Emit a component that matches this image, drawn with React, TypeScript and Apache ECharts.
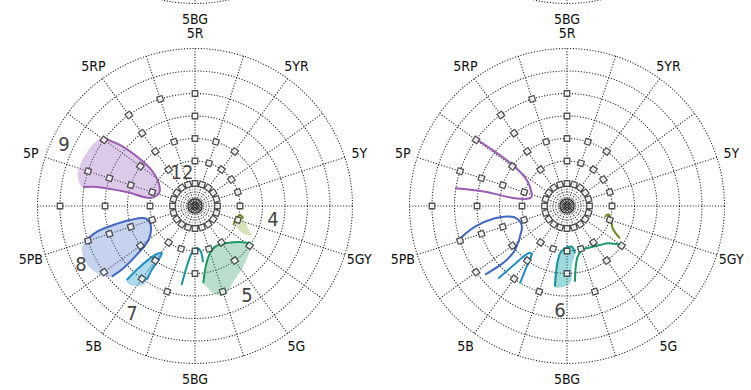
import React, { useEffect, useRef } from "react";
import * as echarts from "echarts";

// ---------- data ----------
const HUE_LABELS = ["5R", "5YR", "5Y", "5GY", "5G", "5BG", "5B", "5PB", "5P", "5RP"];
const HUE_LABEL_ANGLES = [0, 36, 72, 108, 144, 180, 216, 252, 288, 324];
const TOP_LABELS = ["5BG"];
const TOP_LABEL_ANGLES = [180];

const HUES20 = ["5R", "10R", "5YR", "10YR", "5Y", "10Y", "5GY", "10GY", "5G", "10G", "5BG", "10BG", "5B", "10B", "5PB", "10PB", "5P", "10P", "5RP", "10RP"];
const HUE20_ANGLES = [0, 18, 36, 54, 72, 90, 108, 126, 144, 162, 180, 198, 216, 234, 252, 270, 288, 306, 324, 342];
const MARKER_CHROMAS = [
  [2, 4, 6, 8, 10], // 5R
  [2, 4, 6], // 10R
  [2, 4, 6], // 5YR
  [2, 4], // 10YR
  [2, 4], // 5Y
  [2, 4], // 10Y
  [2, 4], // 5GY
  [2, 6], // 10GY
  [2, 4, 6], // 5G
  [2, 4, 8], // 10G
  [2, 4, 6], // 5BG
  [2, 4, 8], // 10BG
  [2, 4, 6, 8], // 5B
  [2, 6, 10], // 10B
  [2, 4, 6, 8, 10], // 5PB
  [2, 4, 8, 12], // 10PB
  [2, 4, 6, 8, 10], // 5P
  [2, 6, 10], // 10P
  [2, 4, 6, 8, 10], // 5RP
  [2, 6, 10], // 10RP
];

// regions: [chroma, hue angle]
const PURPLE_LINE_L = [[10.24, 306.2], [8.6, 309.1], [6.4, 310.5], [4.8, 309], [3.75, 301.4], [3.4, 289.9], [4.06, 280.1], [6.2, 281.6], [8.9, 281], [10.1, 279.6]];
const PURPLE_EDGE_L = [[10.7, 283.5], [10.85, 289.6], [10.7, 297.6], [10.5, 303.3]];
const BLUE_LINE_L = [[10.3, 252], [9.0, 255.3], [7.46, 256.9], [5.9, 257.8], [4.58, 256.2], [4.28, 246.8], [5.1, 234], [6.8, 230], [8.44, 229], [9.7, 229.7]];
const BLUE_EDGE_L = [[10.4, 234], [10.9, 241.1], [10.8, 248.7]];
const CYAN_LINE_L = [[8.95, 222.7], [7.28, 222.2], [5.6, 219.2], [5.14, 215.1], [5.8, 214.2], [6.87, 214.1], [7.85, 213.1]];
const CYAN_EDGE_L = [[8.4, 213.2], [9.1, 219.5]];
const TEAL_LINE_L = [[7.12, 189.6], [5.45, 187.8], [4.2, 184], [3.76, 177.7], [4.12, 172.6], [5.03, 171.9]];
const GREEN_LINE_L = [[6.9, 173.9], [5.33, 169.4], [4.41, 162.4], [4.02, 152.3], [4.35, 139.1], [5.12, 128.7], [6.09, 123.7]];
const GREEN_EDGE_L = [[6.15, 122.6], [6.44, 132.6], [6.9, 141.5], [7.54, 153.2], [8.35, 161.4], [7.93, 168.2], [7.25, 171.8]];
const OLIVE_LINE_L = [[3.8, 116.4], [3.87, 106.4], [4.08, 101.3], [4.43, 104.3]];
const OLIVE_FILL_L = [[3.87, 106.4], [4.08, 101.3], [4.43, 104.3], [5.25, 114], [5.66, 117.1], [5.02, 119.7], [4.14, 116.4]];

const PURPLE_LINE_R = [[10.15, 306.4], [8.0, 307], [5.8, 307], [4.26, 302.8], [3.34, 289.8], [3.36, 281.8], [4.67, 278.4], [7.4, 279.9], [10.08, 279]];
const BLUE_LINE_R = [[10.1, 252.6], [8.38, 257.3], [6.5, 260.3], [5.0, 259], [4.4, 251.5], [4.56, 242.1], [6.05, 229.8], [7.2, 228.2], [8.17, 228.7], [9.5, 230]];
const CYAN_LINE_R = [[8.87, 223.5], [7.3, 222.3], [5.95, 220.8], [5.3, 218.4], [5.37, 215.8], [6.48, 213.6], [8.04, 211.3]];
const TEAL_LINE_R = [[7.25, 188.5], [5.47, 189.6], [4.25, 188.4], [3.76, 182.7], [3.64, 173.4], [4.26, 170.4]];
const TEAL_EDGE_R = [[5.26, 175.2], [6.88, 177.8]];
const GREEN_LINE_R = [[6.77, 174], [4.88, 169.8], [4.12, 161.5], [4.17, 153.4], [4.54, 139.8], [4.95, 132.1], [5.97, 125.5]];
const OLIVE_LINE_R = [[3.5, 106.1], [3.75, 101.4], [4.1, 107.7], [4.57, 116.6], [5.52, 121.4]];

const NUM_LABELS_L = ["9", "12", "4", "8", "7", "5"];
const NUM_POS_L = [[12.88, 295.3], [3.24, 339.1], [7.03, 99.5], [11.37, 243], [11.04, 210.5], [9.16, 149.7]];
const NUM_LABELS_R = ["6"];
const NUM_POS_R = [[9.26, 183.9]];

// ---------- styling ----------
const FONT = '"DejaVu Sans Condensed", "Liberation Sans Narrow", "DejaVu Sans", sans-serif';
const GRID = "#262626";
const HUE_LABEL_CHROMA = 15.35;

function polarAxes(idx: number) {
  const ls = { color: GRID, width: 1.1, type: [1.1, 1.7] };
  return {
    angleAxis: {
      polarIndex: idx, type: "value", min: 0, max: 360, interval: 18, startAngle: 90, clockwise: true,
      axisLine: { show: false }, axisTick: { show: false }, axisLabel: { show: false },
      splitLine: { show: true, lineStyle: ls },
    },
    radiusAxis: {
      polarIndex: idx, type: "value", min: 0, max: 14, interval: 2,
      axisLine: { show: false }, axisTick: { show: false }, axisLabel: { show: false },
      splitLine: { show: true, lineStyle: ls },
    },
  };
}

function shapeSeries(polarIndex: number, line: number[][], edge: number[][] | null, fill: string | null, stroke: string) {
  return {
    type: "custom", coordinateSystem: "polar", polarIndex, silent: true, z: 3, data: [[0, 0]],
    renderItem: (params: any, api: any) => {
      const lp = line.map((p) => api.coord(p));
      const children: any[] = [];
      if (fill) {
        const fp = line.concat(edge || []).map((p) => api.coord(p));
        children.push({ type: "polygon", shape: { points: fp, smooth: 0.35 }, style: { fill, stroke: null } });
      }
      children.push({ type: "polyline", shape: { points: lp, smooth: 0.35 }, style: { fill: null, stroke, lineWidth: 2 } });
      return { type: "group", children };
    },
  };
}

function fillOnlySeries(polarIndex: number, pts: number[][], fill: string) {
  return {
    type: "custom", coordinateSystem: "polar", polarIndex, silent: true, z: 3, data: [[0, 0]],
    renderItem: (params: any, api: any) => ({
      type: "polygon", shape: { points: pts.map((p) => api.coord(p)), smooth: 0.35 }, style: { fill, stroke: null },
    }),
  };
}

function labelSeries(polarIndex: number, texts: string[], pos: number[][], fontSize: number, color: string, weight: any) {
  return {
    type: "custom", coordinateSystem: "polar", polarIndex, silent: true, z: 6, data: pos,
    renderItem: (params: any, api: any) => {
      const p = api.coord([api.value(0), api.value(1)]);
      return {
        type: "text", x: p[0], y: p[1],
        style: { text: texts[params.dataIndex], fill: color, fontSize, lineHeight: fontSize, fontFamily: FONT, fontWeight: weight, align: "center", verticalAlign: "middle" },
      };
    },
  };
}

function centerSeries(polarIndex: number) {
  return {
    type: "custom", coordinateSystem: "polar", polarIndex, silent: true, z: 4, data: [[0, 0]],
    renderItem: (params: any, api: any) => {
      const c = api.coord([0, 0]);
      const p1 = api.coord([1, 0]);
      const unit = Math.hypot(p1[0] - c[0], p1[1] - c[1]);
      const children: any[] = [];
      [0.14, 0.38, 0.62].forEach((r) =>
        children.push({ type: "circle", shape: { cx: c[0], cy: c[1], r: r * unit }, style: { fill: null, stroke: "#333", lineWidth: 1.4 } })
      );
      children.push({ type: "circle", shape: { cx: c[0], cy: c[1], r: 1.25 * unit }, style: { fill: null, stroke: "#555", lineWidth: 0.9, lineDash: [1, 1.5] } });
      for (let k = 0; k < 40; k++) {
        const a = k * 9;
        const q0 = api.coord([0.75, a]);
        const q1 = api.coord([2, a]);
        children.push({ type: "line", shape: { x1: q0[0], y1: q0[1], x2: q1[0], y2: q1[1] }, style: { stroke: "#777", lineWidth: 0.8, lineDash: [1, 1.5] } });
      }
      return { type: "group", children };
    },
  };
}

function markerSeries(polarIndex: number) {
  const data: any[] = [];
  HUES20.forEach((h, i) => {
    MARKER_CHROMAS[i].forEach((c) => data.push({ value: [c, HUE20_ANGLES[i]], symbolRotate: -HUE20_ANGLES[i] }));
  });
  return {
    type: "scatter", coordinateSystem: "polar", polarIndex, silent: true, z: 5, symbol: "rect", symbolSize: 5.5,
    itemStyle: { color: "#fff", borderColor: "#2a2a2a", borderWidth: 1.3 }, data,
  };
}

export default function App() {
  const ref = useRef<HTMLDivElement>(null);
  useEffect(() => {
    if (!ref.current) return;
    const chart = echarts.init(ref.current, null, { renderer: "svg" });
    const axes = [0, 1, 2, 3].map(polarAxes);
    const R = 157.5;
    const option: any = {
      animation: false,
      backgroundColor: "#fff",
      polar: [
        { center: [195, 206], radius: R },
        { center: [567, 206], radius: R },
        { center: [195, -154], radius: R },
        { center: [567, -154], radius: R },
      ],
      angleAxis: axes.map((a) => a.angleAxis),
      radiusAxis: axes.map((a) => a.radiusAxis),
      series: [
        // left chart
        shapeSeries(0, PURPLE_LINE_L, PURPLE_EDGE_L, "rgba(165,115,195,0.38)", "#9a5cb4"),
        shapeSeries(0, BLUE_LINE_L, BLUE_EDGE_L, "rgba(105,140,210,0.38)", "#4169c4"),
        shapeSeries(0, CYAN_LINE_L, CYAN_EDGE_L, "rgba(60,170,215,0.42)", "#1e8fc6"),
        shapeSeries(0, TEAL_LINE_L, null, null, "#17959f"),
        shapeSeries(0, GREEN_LINE_L, GREEN_EDGE_L, "rgba(70,170,120,0.38)", "#1d9a68"),
        fillOnlySeries(0, OLIVE_FILL_L, "rgba(150,180,70,0.38)"),
        shapeSeries(0, OLIVE_LINE_L, null, null, "#6b8a1d"),
        // right chart
        shapeSeries(1, PURPLE_LINE_R, null, null, "#9a5cb4"),
        shapeSeries(1, BLUE_LINE_R, null, null, "#4169c4"),
        shapeSeries(1, CYAN_LINE_R, null, null, "#1e8fc6"),
        shapeSeries(1, TEAL_LINE_R, TEAL_EDGE_R, "rgba(40,170,175,0.45)", "#17959f"),
        shapeSeries(1, GREEN_LINE_R, null, null, "#1d9a68"),
        shapeSeries(1, OLIVE_LINE_R, null, null, "#6b8a1d"),
        centerSeries(0),
        centerSeries(1),
        markerSeries(0),
        markerSeries(1),
        labelSeries(0, HUE_LABELS, HUE_LABELS.map((_, i) => [HUE_LABEL_CHROMA, HUE_LABEL_ANGLES[i]]), 14, "#111", "normal"),
        labelSeries(1, HUE_LABELS, HUE_LABELS.map((_, i) => [HUE_LABEL_CHROMA, HUE_LABEL_ANGLES[i]]), 14, "#111", "normal"),
        labelSeries(2, TOP_LABELS, TOP_LABELS.map((_, i) => [HUE_LABEL_CHROMA, TOP_LABEL_ANGLES[i]]), 14, "#111", "normal"),
        labelSeries(3, TOP_LABELS, TOP_LABELS.map((_, i) => [HUE_LABEL_CHROMA, TOP_LABEL_ANGLES[i]]), 14, "#111", "normal"),
        labelSeries(0, NUM_LABELS_L, NUM_POS_L, 20, "#444", 300),
        labelSeries(1, NUM_LABELS_R, NUM_POS_R, 20, "#444", 300),
      ],
    };
    chart.setOption(option);
    return () => chart.dispose();
  }, []);
  return <div ref={ref} style={{ position: "fixed", left: 0, top: 0, width: 751, height: 390, background: "#fff" }} />;
}
